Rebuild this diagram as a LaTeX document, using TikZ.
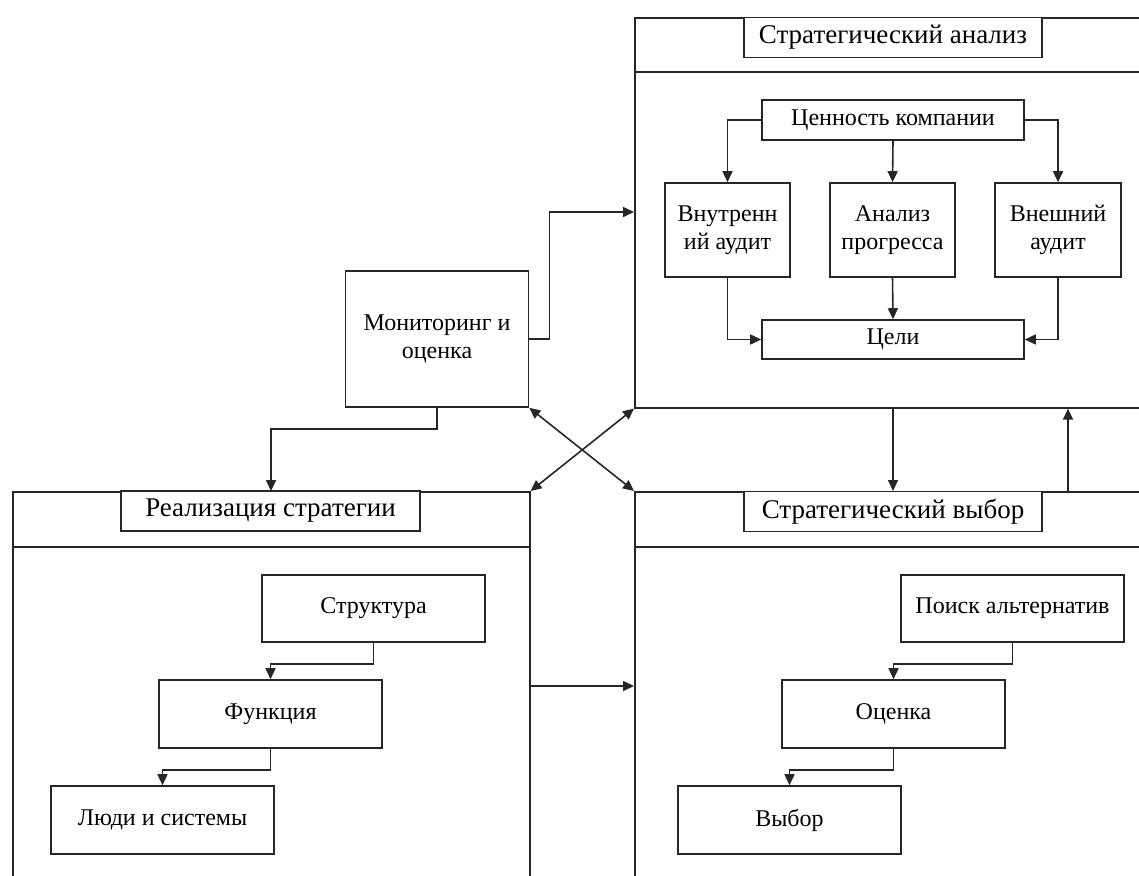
\documentclass[tikz,border=0pt]{standalone}
\usepackage{fontspec}
\setmainfont{Liberation Serif}
\usetikzlibrary{arrows.meta}
\begin{document}
\begin{tikzpicture}[x=1pt,y=-1pt,
  lw/.style={line width=1.6pt, draw=black!85},
  bigbox/.style={lw, anchor=north west, inner sep=0pt},
  titlebox/.style={lw, fill=white, inner sep=0pt, font=\fontsize{27}{31}\selectfont},
  item/.style={lw, fill=white, inner sep=0pt, align=center, font=\fontsize{24}{28}\selectfont},
  arr/.style={lw, -{Triangle[length=11pt,width=10pt]}},
  darr/.style={lw, {Triangle[length=11pt,width=10pt]}-{Triangle[length=11pt,width=10pt]}}]
\useasboundingbox (0,0) rectangle (1139,875);
\clip (0,0) rectangle (1139,875);
% big frames
\node[bigbox, minimum width=540pt, minimum height=390pt] (SA) at (634,17) {};
\node[bigbox, minimum width=517pt, minimum height=420pt] (RS) at (12,491) {};
\node[bigbox, minimum width=540pt, minimum height=420pt] (SV) at (634,491) {};
\draw[lw] (634,72) coordinate (sah) -- (1160,72);
\draw[lw] (12,547) coordinate (rsh) -- (529,547);
\draw[lw] (634,547) coordinate (svh) -- (1160,547);
% titles
\node[titlebox, minimum width=298pt, minimum height=40pt] (SAt) at (893,37.5) {Стратегический анализ};
\node[titlebox, minimum width=299pt, minimum height=40pt] (RSt) at (270.5,511) {Реализация стратегии};
\node[titlebox, minimum width=298pt, minimum height=40pt] (SVt) at (893,511.5) {Стратегический выбор};
% strategic analysis contents
\node[item, minimum width=262pt, minimum height=40pt] (cv) at (893,120) {Ценность компании};
\node[item, minimum width=125pt, minimum height=94pt] (ia) at (727.5,230) {Внутренн\\ий аудит};
\node[item, minimum width=125pt, minimum height=94pt] (ap) at (892.5,230) {Анализ\\прогресса};
\node[item, minimum width=126pt, minimum height=94pt] (ea) at (1058,230) {Внешний\\аудит};
\node[item, minimum width=262pt, minimum height=39pt] (goals) at (893,339.5) {Цели};
\draw[arr] (cv.west) -| (ia.north);
\draw[arr] (cv.south) -- (ap.north);
\draw[arr] (cv.east) -| (ea.north);
\draw[arr] (ia.south) |- (goals.west);
\draw[arr] (ap.south) -- (goals.north);
\draw[arr] (ea.south) |- (goals.east);
% monitoring
\node[item, minimum width=183pt, minimum height=136pt] (mon) at (437,339) {Мониторинг и\\оценка};
\draw[arr] (mon.east) -- ++(20,0) |- (SA.west |- 0,212);
\draw[arr] (mon.south) -- ++(0,21) -| (RS.north -| 271,0);
\draw[darr] (mon.south east) -- (SV.north west);
\draw[darr] (SA.south west) -- (RS.north east);
% between frames
\draw[arr] (RS.east |- 0,686) -- (SV.west |- 0,686);
\draw[arr] (SA.south west -| 893,0) -- (SV.north west -| 893,0);
\draw[arr] (SV.north west -| 1068,0) -- (SA.south west -| 1068,0);
% implementation contents
\node[item, minimum width=223pt, minimum height=67pt] (st) at (373.5,608.5) {Структура};
\node[item, minimum width=223pt, minimum height=68pt] (fn) at (270.5,714) {Функция};
\node[item, minimum width=223pt, minimum height=68pt] (ppl) at (162.5,820) {Люди и системы};
\draw[arr] (st.south) -- ++(0,21) -| (fn.north);
\draw[arr] (fn.south) -- ++(0,21) -| (ppl.north);
% choice contents
\node[item, minimum width=223pt, minimum height=67pt] (alt) at (1012.5,608.5) {Поиск альтернатив};
\node[item, minimum width=223pt, minimum height=68pt] (ev) at (893.5,714) {Оценка};
\node[item, minimum width=223pt, minimum height=68pt] (ch) at (789.5,820) {Выбор};
\draw[arr] (alt.south) -- ++(0,21) -| (ev.north);
\draw[arr] (ev.south) -- ++(0,21) -| (ch.north);
\end{tikzpicture}
\end{document}
